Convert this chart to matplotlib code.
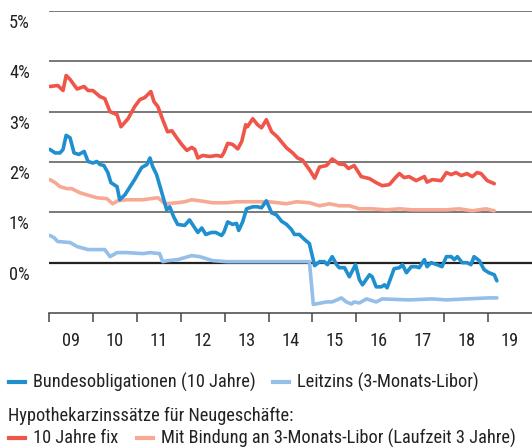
import matplotlib
matplotlib.use("Agg")
import matplotlib.pyplot as plt
import matplotlib.transforms as mtransforms
from matplotlib.lines import Line2D

plt.rcParams["font.family"] = ["Roboto Condensed", "Roboto", "DejaVu Sans"]

# ---- data (decimal years, percent) ----
bund_t = [2009.02, 2009.14, 2009.25, 2009.32, 2009.39, 2009.48, 2009.57, 2009.68, 2009.80, 2009.89,
          2010.00, 2010.09, 2010.16, 2010.25, 2010.34, 2010.41, 2010.55, 2010.61, 2010.73, 2010.95,
          2011.11, 2011.23, 2011.30, 2011.36, 2011.45, 2011.57, 2011.68, 2011.75, 2011.84, 2011.93,
          2012.09, 2012.20, 2012.32, 2012.39, 2012.48, 2012.57, 2012.70, 2012.80, 2012.93, 2012.98,
          2013.07, 2013.18, 2013.27, 2013.32, 2013.41, 2013.50, 2013.64, 2013.75, 2013.84, 2013.95,
          2014.07, 2014.18, 2014.30, 2014.41, 2014.52, 2014.59, 2014.70, 2014.82, 2014.93, 2015.00,
          2015.05, 2015.16, 2015.27, 2015.34, 2015.45, 2015.55, 2015.61, 2015.73, 2015.84, 2015.98,
          2016.07, 2016.14, 2016.30, 2016.36, 2016.45, 2016.57, 2016.64, 2016.70, 2016.86, 2016.98,
          2017.05, 2017.14, 2017.25, 2017.36, 2017.43, 2017.55, 2017.61, 2017.70, 2017.84, 2017.95,
          2018.05, 2018.16, 2018.23, 2018.30, 2018.41, 2018.52, 2018.61, 2018.68, 2018.80, 2018.91,
          2019.02, 2019.14, 2019.20]
bund_v = [2.25, 2.18, 2.18, 2.25, 2.53, 2.48, 2.18, 2.15, 2.21, 2.01,
          1.98, 2.01, 1.95, 1.93, 1.79, 1.59, 1.51, 1.25, 1.35, 1.65,
          1.89, 1.95, 2.08, 1.91, 1.75, 1.39, 1.05, 1.11, 0.91, 0.76,
          0.74, 0.85, 0.69, 0.60, 0.69, 0.56, 0.60, 0.60, 0.54, 0.60,
          0.81, 0.76, 0.78, 0.64, 0.81, 1.07, 1.11, 1.11, 1.09, 1.23,
          0.99, 0.95, 0.82, 0.76, 0.66, 0.56, 0.56, 0.46, 0.38, 0.12,
          -0.06, 0.02, 0.02, -0.04, 0.12, -0.04, -0.10, -0.10, -0.28, -0.04,
          -0.34, -0.44, -0.24, -0.28, -0.48, -0.48, -0.44, -0.50, -0.12, -0.10,
          -0.04, -0.20, -0.08, -0.08, -0.10, 0.06, -0.08, 0.00, -0.04, -0.08,
          0.12, 0.12, 0.06, 0.12, 0.00, 0.00, -0.04, 0.12, 0.04, -0.14,
          -0.20, -0.24, -0.36]

libor_t = [2009.02, 2009.11, 2009.20, 2009.48, 2009.64, 2009.89, 2010.27, 2010.39, 2010.55, 2010.77,
           2011.14, 2011.30, 2011.52, 2011.59, 2011.70, 2011.93, 2012.25, 2012.43, 2012.73, 2013.05,
           2013.80, 2014.93, 2015.02, 2015.20, 2015.32, 2015.45, 2015.66, 2015.77, 2015.89, 2015.95,
           2016.07, 2016.23, 2016.45, 2016.59, 2017.20, 2017.73, 2018.05, 2018.50, 2019.02, 2019.20]
libor_v = [0.54, 0.50, 0.42, 0.40, 0.32, 0.26, 0.26, 0.12, 0.20, 0.20,
           0.18, 0.20, 0.18, 0.02, 0.04, 0.06, 0.14, 0.12, 0.04, 0.02,
           0.02, 0.02, -0.83, -0.80, -0.78, -0.78, -0.70, -0.78, -0.82, -0.78,
           -0.80, -0.72, -0.78, -0.72, -0.74, -0.72, -0.74, -0.72, -0.70, -0.70]

fix10_t = [2009.02, 2009.20, 2009.32, 2009.39, 2009.48, 2009.64, 2009.80, 2009.89, 2010.00, 2010.16,
           2010.27, 2010.39, 2010.55, 2010.64, 2010.80, 2010.95, 2011.07, 2011.18, 2011.32, 2011.39,
           2011.48, 2011.59, 2011.70, 2011.80, 2011.91, 2012.02, 2012.14, 2012.25, 2012.32, 2012.39,
           2012.50, 2012.66, 2012.82, 2012.93, 2012.98, 2013.07, 2013.18, 2013.30, 2013.39, 2013.48,
           2013.52, 2013.64, 2013.75, 2013.84, 2013.95, 2014.07, 2014.20, 2014.41, 2014.55, 2014.66,
           2014.77, 2014.93, 2015.05, 2015.16, 2015.32, 2015.45, 2015.61, 2015.73, 2015.82, 2015.95,
           2016.11, 2016.30, 2016.45, 2016.59, 2016.75, 2016.91, 2016.98, 2017.09, 2017.20, 2017.36,
           2017.55, 2017.61, 2017.73, 2017.93, 2018.05, 2018.16, 2018.27, 2018.39, 2018.52, 2018.64,
           2018.75, 2018.84, 2018.98, 2019.14]
fix10_v = [3.50, 3.52, 3.42, 3.72, 3.64, 3.45, 3.50, 3.42, 3.42, 3.30,
           3.26, 3.00, 2.94, 2.70, 2.86, 3.10, 3.24, 3.28, 3.40, 3.20,
           3.10, 2.84, 2.60, 2.62, 2.48, 2.35, 2.23, 2.29, 2.25, 2.08,
           2.13, 2.11, 2.13, 2.11, 2.18, 2.37, 2.35, 2.26, 2.41, 2.74,
           2.70, 2.86, 2.74, 2.68, 2.84, 2.60, 2.50, 2.28, 2.18, 2.08,
           2.04, 1.85, 1.68, 1.90, 1.93, 2.06, 1.96, 1.95, 1.87, 1.93,
           1.71, 1.67, 1.59, 1.53, 1.55, 1.71, 1.77, 1.69, 1.71, 1.63,
           1.71, 1.60, 1.65, 1.63, 1.79, 1.75, 1.79, 1.73, 1.77, 1.71,
           1.79, 1.77, 1.63, 1.57]

libor3_t = [2009.02, 2009.14, 2009.25, 2009.41, 2009.52, 2009.70, 2009.93, 2010.09, 2010.32, 2010.45,
            2010.57, 2010.77, 2011.14, 2011.30, 2011.48, 2011.64, 2011.91, 2012.09, 2012.25, 2012.43,
            2012.73, 2013.05, 2013.27, 2013.64, 2014.02, 2014.41, 2014.64, 2014.93, 2015.16, 2015.39,
            2015.61, 2015.84, 2016.07, 2016.36, 2016.68, 2016.98, 2017.27, 2017.59, 2018.05, 2018.34,
            2018.64, 2018.95, 2019.14]
libor3_v = [1.65, 1.59, 1.51, 1.47, 1.47, 1.39, 1.33, 1.29, 1.27, 1.17,
            1.23, 1.25, 1.25, 1.27, 1.29, 1.17, 1.19, 1.21, 1.25, 1.23,
            1.19, 1.19, 1.21, 1.21, 1.21, 1.17, 1.21, 1.19, 1.13, 1.17,
            1.13, 1.13, 1.07, 1.07, 1.05, 1.07, 1.05, 1.05, 1.05, 1.07,
            1.03, 1.07, 1.03]

years = list(range(2009, 2020))
year_labels = ["09", "10", "11", "12", "13", "14", "15", "16", "17", "18", "19"]
y_ticks = [0, 1, 2, 3, 4, 5]

c_bund = "#1f8fd0"
c_libor = "#93bfe8"
c_fix = "#ef5549"
c_libor3 = "#f8a994"
c_text = "#222222"
fs = 13.2

W, H = 532, 447
fig = plt.figure(figsize=(W / 100, H / 100), dpi=100)
ax = fig.add_axes([49 / W, 1 - 313 / H, 1 - 49 / W, (313 - 11) / H])

for v in y_ticks:
    ax.axhline(v, color="#222222" if v == 0 else "#555555", lw=1.6 if v == 0 else 1.1, zorder=1)

lw = 2.6
ax.plot(libor3_t, libor3_v, color=c_libor3, lw=lw, zorder=3, solid_capstyle="round")
ax.plot(libor_t, libor_v, color=c_libor, lw=lw, zorder=3, solid_capstyle="round")
ax.plot(fix10_t, fix10_v, color=c_fix, lw=lw, zorder=4, solid_capstyle="round")
ax.plot(bund_t, bund_v, color=c_bund, lw=lw, zorder=5, solid_capstyle="round")

ax.set_xlim(2009, 2020)
ax.set_ylim(-1, 5)
for s in ["top", "right", "left"]:
    ax.spines[s].set_visible(False)
ax.spines["bottom"].set_color("#444444")
ax.spines["bottom"].set_linewidth(1.1)

ax.set_xticks(years)
ax.set_xticklabels([])
ax.set_xticks([y + 0.5 for y in years], minor=True)
ax.set_xticklabels(year_labels, minor=True, fontsize=fs, color=c_text)
ax.tick_params(axis="x", which="major", length=6.5, width=1.1, color="#444444")
ax.tick_params(axis="x", which="minor", length=0, pad=14)
ax.set_yticks([])

ytrans = mtransforms.blended_transform_factory(fig.transFigure, ax.transData)
ytrans = mtransforms.offset_copy(ytrans, fig=fig, y=-3, units="dots")
for v in y_ticks:
    ax.text(9 / W, v, f"{v}%", transform=ytrans, ha="left", va="top",
            fontsize=fs, color=c_text)

# legend
def leg_item(x0, y, color, label):
    fig.add_artist(Line2D([x0 / W, (x0 + 16) / W], [1 - y / H, 1 - y / H],
                          transform=fig.transFigure, color=color, lw=3))
    fig.text((x0 + 24) / W, 1 - y / H, label, ha="left", va="center",
             fontsize=fs, color=c_text)

leg_item(9, 382, c_bund, "Bundesobligationen (10 Jahre)")
leg_item(273, 382, c_libor, "Leitzins (3-Monats-Libor)")
fig.text(8 / W, 1 - 416 / H, "Hypothekarzinssätze für Neugeschäfte:", ha="left", va="center",
         fontsize=fs, color=c_text)
leg_item(9, 438, c_fix, "10 Jahre fix")
leg_item(137, 438, c_libor3, "Mit Bindung an 3-Monats-Libor (Laufzeit 3 Jahre)")

fig.savefig("out.png", dpi=100)
